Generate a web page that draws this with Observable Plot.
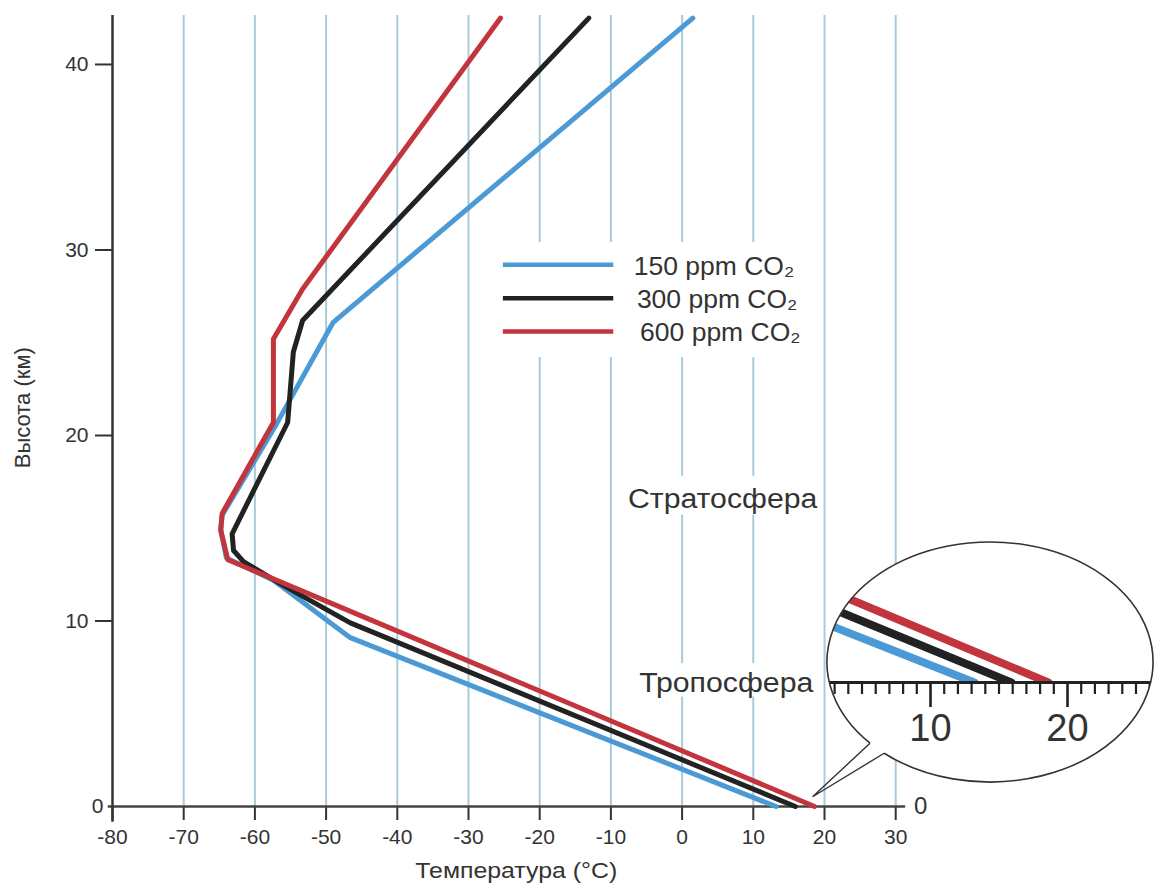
<!DOCTYPE html>
<html><head><meta charset="utf-8">
<script src="https://cdn.jsdelivr.net/npm/d3@7"></script>
<script src="https://cdn.jsdelivr.net/npm/@observablehq/plot@0.6"></script>
<style>
body{margin:0;background:#fff;}
#wrap{position:relative;width:1156px;height:884px;overflow:hidden;background:#fff;}
#wrap svg{display:block;}
#wrap g[aria-label="x-axis tick label"] text, #wrap g[aria-label="y-axis tick label"] text{font-size:21px !important;}
#inset{position:absolute;left:827px;top:542px;width:330px;height:242px;background:#fff;clip-path:ellipse(163px 120px at 163px 120px);}
#overlay{position:absolute;left:0;top:0;pointer-events:none;}
</style></head><body><div id="wrap"></div>
<script>
// ---- data ----
const series = ["150 ppm CO₂", "300 ppm CO₂", "600 ppm CO₂"];
const colors = ["#4b9ad5", "#222222", "#c3353c"];
const temp150 = [1.5, -49.0, -57.0, -64.6, -64.8, -64.0, -57.4, -46.6, 13.2];
const alt150  = [42.5, 26.1, 20.6, 15.7, 14.9, 13.4, 12.2, 9.1, 0];
const temp300 = [-13.1, -53.3, -54.6, -55.4, -63.2, -63.0, -61.6, -56.4, -46.6, 15.9];
const alt300  = [42.5, 26.2, 24.5, 20.7, 14.7, 13.8, 13.2, 12.0, 9.9, 0];
const temp600 = [-25.5, -53.3, -57.4, -57.4, -64.6, -64.8, -63.8, 18.6];
const alt600  = [42.5, 27.9, 25.2, 20.7, 15.8, 14.9, 13.3, 0];
const xTicks = [-80, -70, -60, -50, -40, -30, -20, -10, 0, 10, 20, 30];
const yTicks = [10, 20, 30, 40];
const gridX = [-70, -60, -50, -40, -30, -20, -10, 0, 10, 20, 30];
const insetMajor = [10, 20];
const layerLabels = ["Стратосфера", "Тропосфера"];

// ---- build tables ----
const temps = [temp150, temp300, temp600], alts = [alt150, alt300, alt600];
const rows = series.flatMap((s, i) => temps[i].map((t, j) => ({s, t, h: alts[i][j]})));
const yTop = 42.64;
const gaps = [
  {xs: [-20, -10, 0, 10], lo: 24.2, hi: 30.4},
  {xs: [0, 10], lo: 15.7, hi: 17.8},
  {xs: [0, 10], lo: 5.9, hi: 7.7}
];
const gridSegs = gridX.flatMap(g => {
  const gs = gaps.filter(d => d.xs.includes(g)).sort((a, b) => a.lo - b.lo);
  const segs = []; let start = 0;
  for (const d of gs) { segs.push({x: g, y1: start, y2: d.lo}); start = d.hi; }
  segs.push({x: g, y1: start, y2: yTop});
  return segs;
});
const font = "'Liberation Sans', Arial, Helvetica, sans-serif";
const color = {domain: series, range: colors};

const main = Plot.plot({
  width: 1156, height: 884,
  marginLeft: 112, marginRight: 246.56, marginTop: 15, marginBottom: 78,
  x: {domain: [-80, 32]},
  y: {domain: [0, yTop]},
  color,
  style: {fontFamily: font, fontSize: "21px", color: "#333", background: "transparent", overflow: "visible"},
  marks: [
    Plot.ruleX(gridSegs, {x: "x", y1: "y1", y2: "y2", stroke: "#a8cbdb", strokeWidth: 2}),
    Plot.axisX({ticks: xTicks, tickSize: 14, tickPadding: 9, fontSize: 21, tickFormat: d => String(d), label: null, strokeWidth: 2}),
    Plot.axisY({ticks: yTicks, tickSize: 17, tickPadding: 7, fontSize: 21, tickFormat: d => String(d), label: null, strokeWidth: 2}),
    Plot.ruleY([0], {x1: -80.6, x2: 31.4, stroke: "#444", strokeWidth: 2.5}),
    Plot.ruleX([-80], {y1: -0.85, y2: yTop, stroke: "#333", strokeWidth: 2.5}),
    Plot.text(["0"], {x: -80, y: 0, dx: -15, fontSize: 21, fill: "#333"}),
    Plot.text(["0"], {x: 31.4, y: 0, dx: 15, fontSize: 24, fill: "#333"}),
    Plot.line(rows, {x: "t", y: "h", z: "s", stroke: "s", strokeWidth: 5, strokeLinejoin: "round"}),
    // legend
    Plot.ruleY(series, {y: (d, i) => 29.2 - i * 1.8, x1: -25.1, x2: -9.6, stroke: d => d, strokeWidth: 4.5}),
    Plot.text(series, {y: (d, i) => 29.1 - i * 1.8, x: (d, i) => -6.8 + i * 0.45, text: d => d, textAnchor: "start", fontSize: 25, fill: "#333"}),
    // layer labels
    Plot.text(layerLabels, {x: [5.7, 6.2], y: [16.55, 6.63], text: d => d, fontSize: 27, fill: "#333"}),
    // axis titles
    Plot.text(["Температура (°C)"], {x: -23.3, y: -3.5, fontSize: 22, fill: "#333"}),
    Plot.text(["Высота (км)"], {x: -80, y: 21.5, dx: -90, rotate: -90, fontSize: 22, fill: "#333"})
  ]
});
document.getElementById("wrap").appendChild(main);

// the reference typesetting is slightly wide: stretch some horizontal texts a little
function stretch(sel, k) {
  sel.each(function () {
    const len = this.getComputedTextLength();
    if (len > 0 && k !== 1) {
      this.setAttribute("textLength", (len * k).toFixed(1));
      this.setAttribute("lengthAdjust", "spacingAndGlyphs");
    }
  });
}
const msel = d3.select(main);
const textGroups = msel.selectAll('g[aria-label="text"]').nodes();
const factors = [1.0, 1.0, 1.06, 1.12, 1.13, 1.0];
textGroups.forEach((g, i) => stretch(d3.select(g).selectAll("text"), factors[i] ?? 1));

// ---- inset (magnified view) ----
const insetDiv = document.createElement("div");
insetDiv.id = "inset";
const minorTicks = d3.range(3, 27).filter(d => !insetMajor.includes(d));
const insetPlot = Plot.plot({
  width: 330, height: 242,
  marginLeft: 0, marginRight: 0, marginTop: 0, marginBottom: 102,
  x: {domain: [2.48, 26.57], axis: null},
  y: {domain: [0, 3.93], axis: null},
  color,
  style: {fontFamily: font, color: "#222", background: "transparent", overflow: "visible"},
  marks: [
    Plot.line(rows, {x: "t", y: "h", z: "s", stroke: "s", strokeWidth: 8, clip: true}),
    Plot.ruleY([0], {stroke: "#222", strokeWidth: 3}),
    Plot.ruleX(minorTicks, {x: d => d, y1: 0, y2: -0.34, stroke: "#222", strokeWidth: 2.2}),
    Plot.ruleX(insetMajor, {x: d => d, y1: 0, y2: -0.7, stroke: "#222", strokeWidth: 2.6}),
    Plot.text(insetMajor, {x: d => d, y: -1.29, text: d => String(d), fontSize: 38, fill: "#333"})
  ]
});
insetDiv.appendChild(insetPlot);
document.getElementById("wrap").appendChild(insetDiv);

// ---- bubble outline + tail ----
const cx = 990, cy = 662, rx = 163, ry = 120;
const pt = a => [cx + rx * Math.cos(a), cy + ry * Math.sin(a)];
const A = pt(137.4 * Math.PI / 180), B = pt(130.5 * Math.PI / 180);
const tip = [main.scale("x").apply(18.4), main.scale("y").apply(0.5)];
const ov = d3.select("#wrap").append("svg").attr("id", "overlay").attr("width", 1156).attr("height", 884);
ov.append("path")
  .attr("d", `M${A[0]},${A[1]} A${rx},${ry} 0 1 1 ${B[0]},${B[1]}`)
  .attr("fill", "none").attr("stroke", "#333").attr("stroke-width", 1.6);
ov.append("path")
  .attr("d", `M${A[0]},${A[1]} L${tip[0]},${tip[1]} L${B[0]},${B[1]}`)
  .attr("fill", "none").attr("stroke", "#333").attr("stroke-width", 1.4);
</script></body></html>
